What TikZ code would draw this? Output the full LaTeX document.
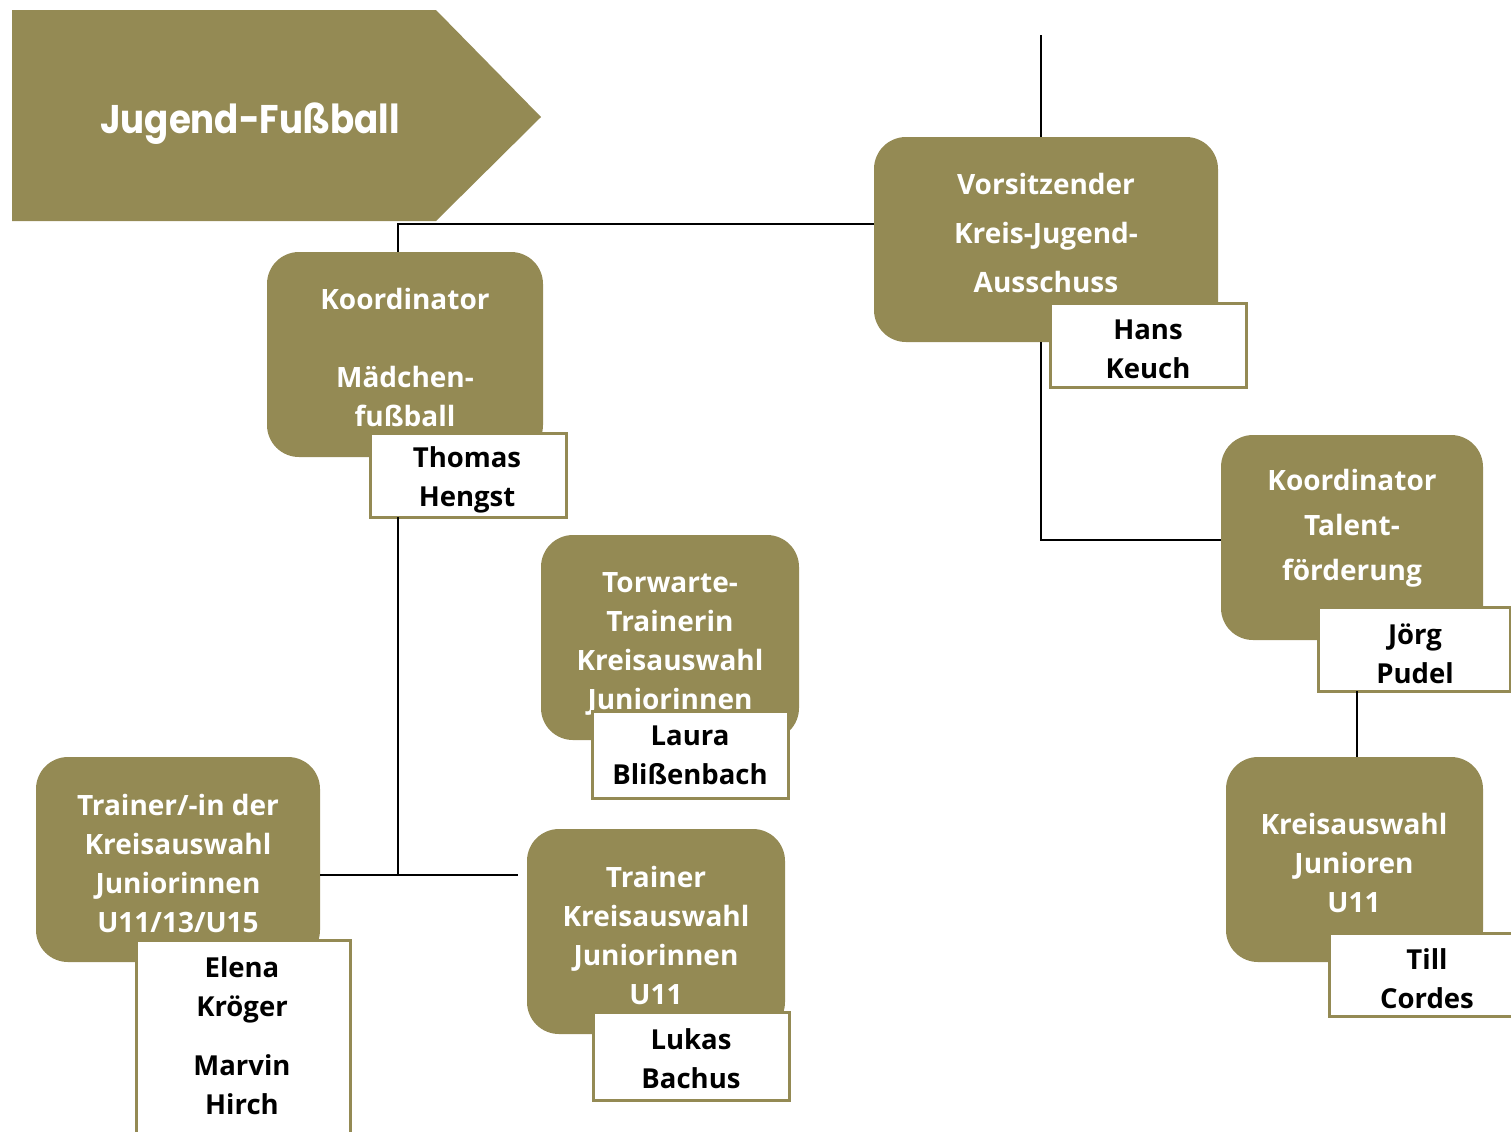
\documentclass[tikz,border=0pt]{standalone}
\usepackage{fontspec}
\setmainfont{Open Sans}
\newfontfamily\titlefont{Poppins}
\definecolor{olive}{HTML}{948A54}
\begin{document}
\begin{tikzpicture}[x=0.5pt,y=-0.5pt,
  rolebox/.style={fill=olive,draw=none,rounded corners=16pt,inner sep=0pt,outer sep=0pt,minimum height=102.5pt},
  roletext/.style={text=white,font=\bfseries\fontsize{14}{19.5}\selectfont,align=center,inner sep=0pt},
  namebox/.style={fill=white,draw=olive,line width=1.5pt,inner sep=0pt,outer sep=0pt},
  nametext/.style={text=black,font=\bfseries\fontsize{13.75}{19.5}\selectfont,align=center,inner sep=0pt},
  conn/.style={draw=black,line width=1.1pt}]
\useasboundingbox (0,0) rectangle (1511,1131);

% title arrow
\fill[olive] (12,10) -- (436,10) -- (541,117) -- (436,221) -- (12,221) -- cycle;
\node[text=white,font=\titlefont\bfseries\fontsize{20}{24}\selectfont,inner sep=0pt] (title) at (250,124) {\scalebox{0.89}[1]{Jugend-Fußball}};

% connector junctions
\coordinate (topend) at (1041,35);
\coordinate (j1) at (398,224);
\coordinate (j2) at (1041,540);
\coordinate (j3) at (398,875);
\coordinate (j4) at (518,875);
\coordinate (j5) at (1357,700);

% role boxes
\node[rolebox,minimum width=172pt] (vors) at (1046,239.5) {};
\node[rolebox,minimum width=138pt] (kmb) at (405,354.5) {};
\node[rolebox,minimum width=129pt] (tor) at (670,637.5) {};
\node[rolebox,minimum width=131pt] (tal) at (1352,537.5) {};
\node[rolebox,minimum width=128.5pt] (kju) at (1354.5,859.5) {};
\node[rolebox,minimum width=142pt] (tri) at (178,859.5) {};
\node[rolebox,minimum width=129pt] (tru) at (656,931.5) {};

\draw[conn] (topend) -- (topend |- vors.north);
\draw[conn] (vors.west |- j1) -- (j1) -- (j1 |- kmb.north);
\draw[conn] (j2 |- vors.south) -- (j2) -- (j2 -| tal.west);
\draw[conn] (tri.east |- j3) -- (j4);

% role texts
\node[roletext,font=\bfseries\fontsize{14}{24.5}\selectfont] (vorsT) at (1046,233) {Vorsitzender\\Kreis-Jugend-\\Ausschuss};
\node[roletext] (kmbT) at (405,357) {Koordinator\\\mbox{}\\Mädchen-\\fußball};
\node[roletext] (torT) at (670,644) {Torwarte-\\Trainerin\\Kreisauswahl\\Juniorinnen};
\node[roletext,font=\bfseries\fontsize{14}{22.5}\selectfont] (talT) at (1352,528) {Koordinator\\Talent-\\förderung};
\node[roletext] (kjuT) at (1354,863) {Kreisauswahl\\Junioren\\U11};
\node[roletext] (triT) at (178,863.5) {Trainer/-in der\\Kreisauswahl\\Juniorinnen\\U11/13/U15};
\node[roletext] (truT) at (656,935.5) {Trainer\\Kreisauswahl\\Juniorinnen\\U11};

% name boxes
\node[namebox,minimum width=98pt,minimum height=42pt] (hk) at (1148,345) {};
\node[namebox,minimum width=98pt,minimum height=42pt] (th) at (468,475) {};
\node[namebox,minimum width=98pt,minimum height=43.5pt] (lb) at (690,754.5) {};
\node[namebox,minimum width=96pt,minimum height=42pt] (jp) at (1414,649) {};
\node[namebox,minimum width=95.5pt,minimum height=41.5pt] (tc) at (1424.5,974.5) {};
\node[namebox,minimum width=107pt,minimum height=102.5pt] (ek) at (243,1042.5) {};
\node[namebox,minimum width=98pt,minimum height=44pt] (lbach) at (691,1056) {};

\draw[conn] (j3 |- th.south) -- (j3);
\draw[conn] (j5 |- jp.south) -- (j5 |- kju.north);

% name texts
\node[nametext] (hkT) at (1148,349.5) {Hans\\Keuch};
\node[nametext] (thT) at (467,479.5) {Thomas\\Hengst};
\node[nametext] (lbT) at (690,755.5) {Laura\\Blißenbach};
\node[nametext] (jpT) at (1415,654) {Jörg\\Pudel};
\node[nametext] (tcT) at (1427,978.5) {Till\\Cordes};
\node[nametext] (ekT) at (242,1035.5) {Elena\\Kröger\\[10pt]Marvin\\Hirch};
\node[nametext] (lbachT) at (691,1058.5) {Lukas\\Bachus};
\end{tikzpicture}
\end{document}
